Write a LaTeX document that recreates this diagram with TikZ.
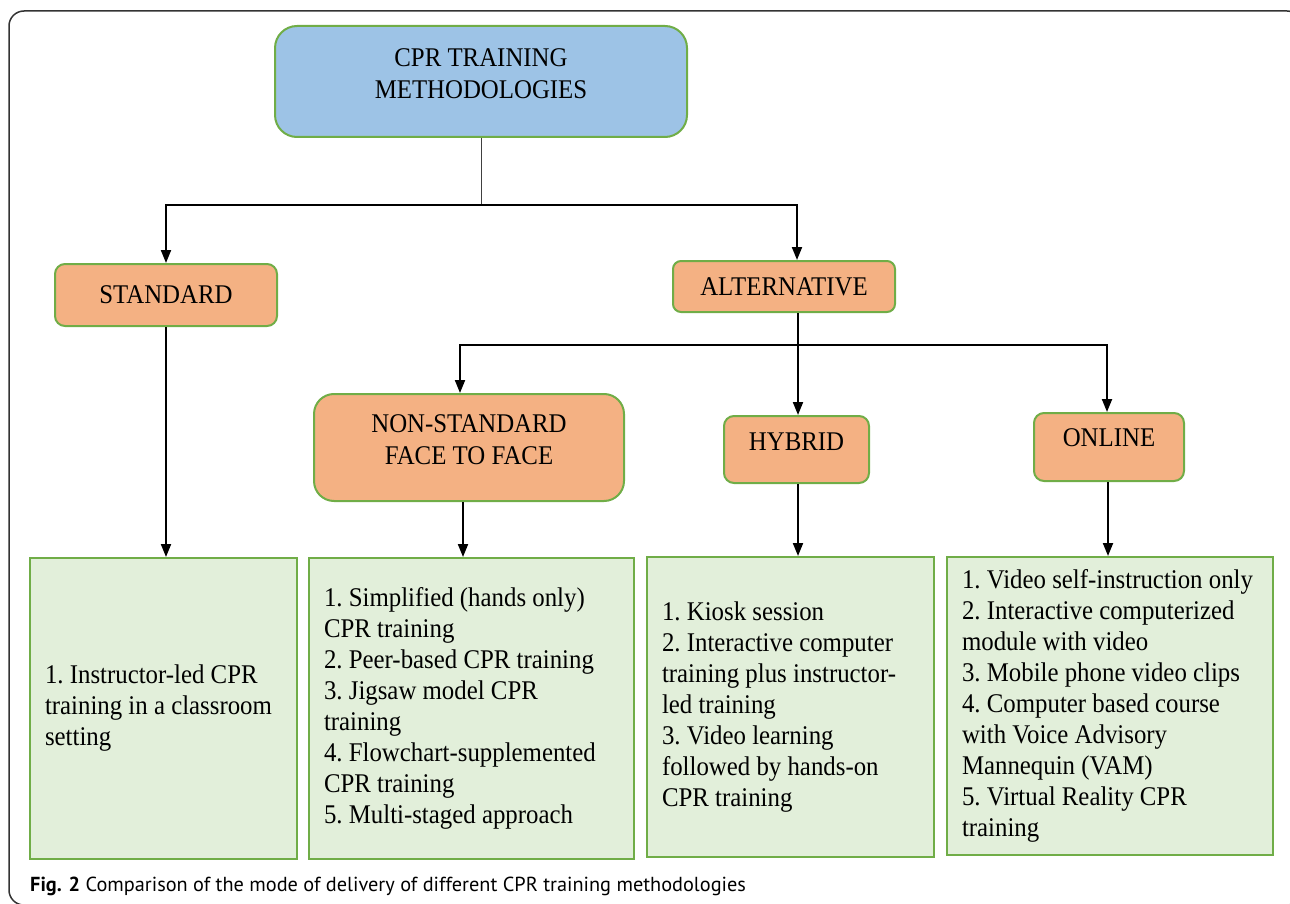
\documentclass[tikz,border=0pt]{standalone}
\usepackage{fontspec}
\setmainfont{Liberation Serif}[FakeStretch=0.92]
\newfontfamily\capfont{PT Sans}
\usetikzlibrary{arrows.meta}
\definecolor{bluefill}{RGB}{157,195,230}
\definecolor{orangefill}{RGB}{244,177,131}
\definecolor{greenline}{RGB}{112,173,71}
\definecolor{leaffill}{RGB}{226,239,218}
\tikzset{
  hdr/.style={draw=greenline, line width=2pt, fill=orangefill, align=center, inner sep=0pt,
    font=\fontsize{27}{32}\selectfont\frenchspacing},
  leaf/.style={draw=greenline, line width=2pt, fill=leaffill, align=flush left, inner ysep=0pt,
    inner xsep=15pt, font=\fontsize{27}{31}\selectfont\frenchspacing},
  arr/.style={line width=2pt, -{Triangle[width=10pt,length=13pt]}},
  conn/.style={line width=2pt},
}
\begin{document}
\begin{tikzpicture}[x=1pt,y=-1pt]
\useasboundingbox (0,0) rectangle (1290,904);
\draw[line width=1.5pt, black!80, rounded corners=15pt] (9,11) rectangle (1302,905);

\node[hdr, fill=bluefill, rounded corners=22pt, minimum width=412pt, minimum height=111pt, text depth=16pt]
  (top) at (481,81.5) {CPR TRAINING\\METHODOLOGIES};
\node[hdr, rounded corners=10pt, minimum width=222pt, minimum height=62pt] (std) at (166,295) {STANDARD};
\node[hdr, rounded corners=8pt, minimum width=222pt, minimum height=51pt] (alt) at (784,286.5) {ALTERNATIVE};
\node[hdr, rounded corners=20pt, minimum width=310pt, minimum height=107pt, text depth=16pt]
  (nsf) at (469,447.5) {NON-STANDARD\\FACE TO FACE};
\node[hdr, rounded corners=10pt, minimum width=145pt, minimum height=67pt, text depth=16pt] (hyb) at (796.5,449.5) {HYBRID};
\node[hdr, rounded corners=10pt, minimum width=150pt, minimum height=68pt, text depth=18pt] (onl) at (1109,447) {ONLINE};

\node[leaf, text width=237pt, minimum height=301pt] (l1) at (163.5,708.5)
  {1. Instructor-led CPR\\training in a classroom\\setting};
\node[leaf, text width=295pt, minimum height=301pt] (l2) at (471.5,708.5)
  {1. Simplified (hands only)\\CPR training\\2. Peer-based CPR training\\3. Jigsaw model CPR\\training\\4. Flowchart-supplemented\\CPR training\\5. Multi-staged approach};
\node[leaf, text width=257pt, minimum height=300pt] (l3) at (790.5,707)
  {1. Kiosk session\\2. Interactive computer\\training plus instructor-\\led training\\3. Video learning\\followed by hands-on\\CPR training};
\node[leaf, text width=296pt, minimum height=298pt] (l4) at (1110,706)
  {1. Video self-instruction only\\2. Interactive computerized\\module with video\\3. Mobile phone video clips\\4. Computer based course\\with Voice Advisory\\Mannequin (VAM)\\5. Virtual Reality CPR\\training};

\coordinate (j1) at (481,205);
\coordinate (j2) at (798,345);
\draw[line width=1pt, black!75] (top.south) -- (j1);
\draw[arr] (j1) -| (std.north);
\draw[arr] (j1) -| ([xshift=13pt]alt.north);
\draw[conn] ([xshift=14pt]alt.south) -- (j2);
\draw[arr] (j2) -| ([xshift=-9pt]nsf.north);
\draw[arr] (j2) -- (j2 |- hyb.north);
\draw[arr] (j2) -| ([xshift=-2pt]onl.north);

\draw[arr] (std.south) -- (std.south |- l1.north);
\draw[arr] ([xshift=-6pt]nsf.south) -- ([xshift=-6pt]nsf.south |- l2.north);
\draw[arr] ([xshift=1.5pt]hyb.south) -- ([xshift=1.5pt]hyb.south |- l3.north);
\draw[arr] ([xshift=-1pt]onl.south) -- ([xshift=-1pt]onl.south |- l4.north);

\node[anchor=west, inner sep=0pt, font=\capfont\fontsize{20.3}{24}\selectfont] (cap) at (30,886)
  {\textbf{Fig. 2} Comparison of the mode of delivery of different CPR training methodologies};
\end{tikzpicture}
\end{document}
